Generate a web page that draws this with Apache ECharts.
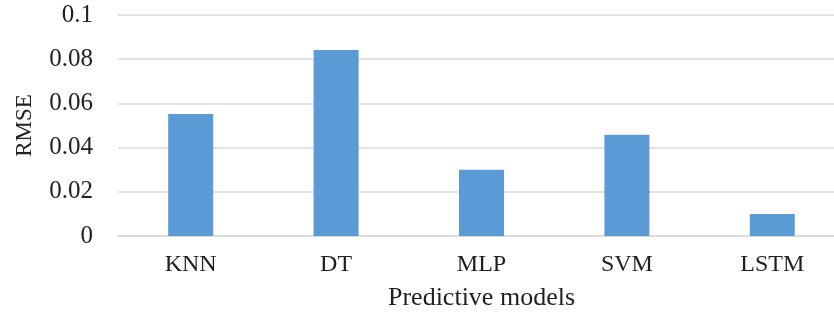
<!DOCTYPE html>
<html>
<head>
<meta charset="utf-8">
<script src="https://cdn.jsdelivr.net/npm/echarts@6/dist/echarts.min.js"></script>
<style>
  html, body { margin: 0; padding: 0; background: #fff; }
  #chart { width: 834px; height: 314px; }
</style>
</head>
<body>
<div id="chart"></div>
<script>
const models = ['KNN', 'DT', 'MLP', 'SVM', 'LSTM']
const rmse = [0.0552, 0.0842, 0.0300, 0.0458, 0.0100]
const yTicks = { min: 0, max: 0.1, interval: 0.02 }

const font = 'Liberation Serif'
const textColor = '#1f1f1f'
const gridColor = '#d9d9d9'

const chart = echarts.init(document.getElementById('chart'))
chart.setOption({
  backgroundColor: '#ffffff',
  animation: false,
  grid: {
    left: 118,
    width: 727,
    top: 15,
    bottom: 78,
    outerBoundsMode: 'none'
  },
  xAxis: {
    type: 'category',
    data: models,
    name: 'Predictive models',
    nameLocation: 'middle',
    nameGap: 49,
    nameTextStyle: { fontFamily: font, fontSize: 26, color: textColor },
    axisLine: { show: true, lineStyle: { color: gridColor, width: 1.5 } },
    axisTick: { show: false },
    axisLabel: { fontFamily: font, fontSize: 24, color: textColor, margin: 17 }
  },
  yAxis: {
    type: 'value',
    min: yTicks.min,
    max: yTicks.max,
    interval: yTicks.interval,
    name: 'RMSE',
    nameLocation: 'middle',
    nameGap: 82,
    nameTextStyle: { fontFamily: font, fontSize: 23, color: textColor },
    axisLine: { show: false },
    axisTick: { show: false },
    axisLabel: { fontFamily: font, fontSize: 25, color: textColor, margin: 25 },
    splitLine: { lineStyle: { color: gridColor, width: 1.5 } }
  },
  series: [{
    type: 'bar',
    data: rmse,
    barWidth: 45,
    itemStyle: { color: '#5b9bd5' }
  }]
})
</script>
</body>
</html>
